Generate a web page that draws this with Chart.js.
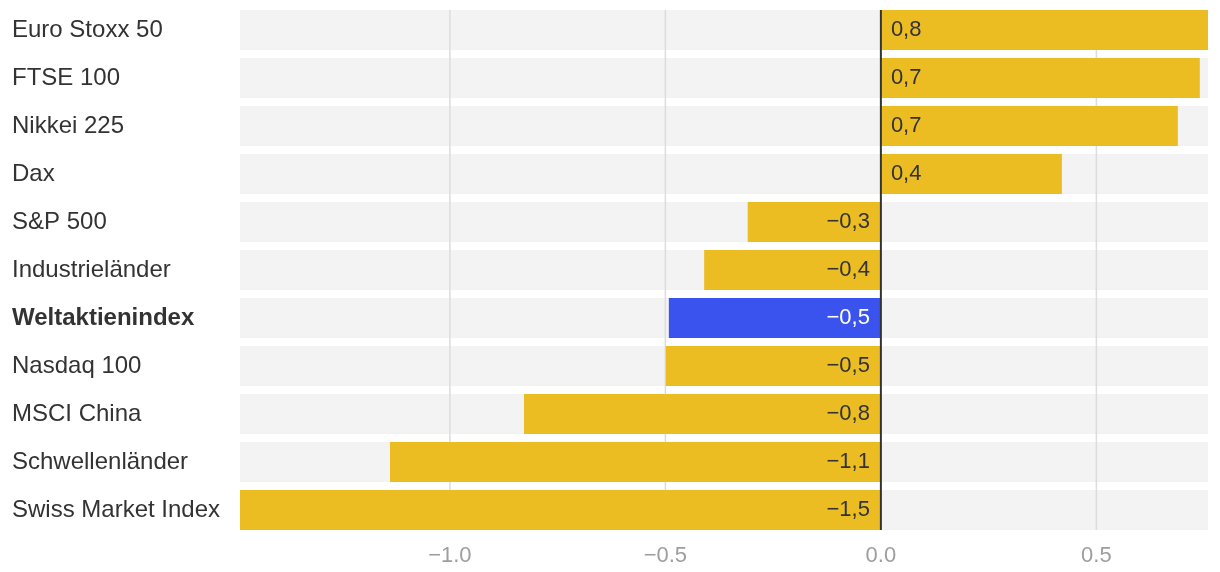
<!DOCTYPE html>
<html>
<head>
  <meta charset="utf-8">
  <script src="https://cdn.jsdelivr.net/npm/chart.js"></script>
  <style>
    html, body { margin: 0; padding: 0; background: #fff; overflow: hidden; }
    #wrap { width: 1220px; height: 562px; position: relative; }
  </style>
</head>
<body>
<div id="wrap"><canvas id="indexChart"></canvas></div>
<script>
const categories = ['Euro Stoxx 50', 'FTSE 100', 'Nikkei 225', 'Dax', 'S&P 500', 'Industrieländer',
  'Weltaktienindex', 'Nasdaq 100', 'MSCI China', 'Schwellenländer', 'Swiss Market Index'];
const values = [0.759, 0.74, 0.689, 0.42, -0.309, -0.41, -0.492, -0.499, -0.828, -1.139, -1.487];
const xTicks = [-1.0, -0.5, 0, 0.5];
const highlight = 'Weltaktienindex';

const FONT = '"Liberation Sans", Arial, Helvetica, sans-serif';
const YELLOW = 'rgb(235,189,34)';
const BLUE = 'rgb(58,83,238)';
const hiIndex = categories.indexOf(highlight);
const xMin = Math.min(...values);
const xMax = Math.max(...values);

const fmt = v => (v < 0 ? '\u2212' : '') + Math.abs(v).toFixed(1).replace('.', ',');

// top/bottom of the bar rows, used for grid and zero line
function rowSpan(chart) {
  const meta = chart.getDatasetMeta(0);
  const first = meta.data[0], last = meta.data[meta.data.length - 1];
  return [first.y - first.height / 2, last.y + last.height / 2];
}

// grid lines go between the grey row backgrounds and the coloured bars
const gridPlugin = {
  id: 'gridBetween',
  afterDatasetDraw(chart, args) {
    if (args.index !== 1) return;
    const c = chart.ctx, x = chart.scales.x;
    const [top, bottom] = rowSpan(chart);
    c.save();
    c.strokeStyle = '#dcdcdc';
    c.lineWidth = 1.5;
    xTicks.forEach(t => {
      if (t === 0) return;
      const px = x.getPixelForValue(t);
      c.beginPath();
      c.moveTo(px, top);
      c.lineTo(px, bottom);
      c.stroke();
    });
    c.restore();
  },
  afterDatasetsDraw(chart) {
    const c = chart.ctx, x = chart.scales.x;
    const meta = chart.getDatasetMeta(0);
    const [top, bottom] = rowSpan(chart);
    const zero = x.getPixelForValue(0);
    c.save();
    // zero line
    c.strokeStyle = '#333';
    c.lineWidth = 2;
    c.beginPath();
    c.moveTo(zero, top);
    c.lineTo(zero, bottom);
    c.stroke();
    // value labels
    c.font = '22px ' + FONT;
    c.textBaseline = 'middle';
    meta.data.forEach((bar, i) => {
      const v = values[i];
      c.fillStyle = i === hiIndex ? '#fff' : '#333';
      if (v >= 0) {
        c.textAlign = 'left';
        c.fillText(fmt(v), bar.base + 10, bar.y);
      } else {
        c.textAlign = 'right';
        c.fillText(fmt(v), bar.base - 11, bar.y);
      }
    });
    c.restore();
  }
};

new Chart(document.getElementById('indexChart'), {
  type: 'bar',
  data: {
    labels: categories,
    datasets: [{
      data: values,
      backgroundColor: categories.map((_, i) => i === hiIndex ? BLUE : YELLOW),
      grouped: false,
      barPercentage: 40 / 48,
      categoryPercentage: 1
    }, {
      data: categories.map(() => [xMin, xMax]),
      backgroundColor: '#f3f3f3',
      grouped: false,
      barPercentage: 40 / 48,
      categoryPercentage: 1
    }]
  },
  plugins: [gridPlugin],
  options: {
    indexAxis: 'y',
    responsive: true,
    maintainAspectRatio: false,
    animation: false,
    events: [],
    layout: { padding: { left: 12, right: 12, top: 6, bottom: 0 } },
    plugins: { legend: { display: false }, tooltip: { enabled: false } },
    scales: {
      x: {
        min: xMin,
        max: xMax,
        afterBuildTicks: s => { s.ticks = xTicks.map(v => ({ value: v })); },
        afterFit: s => { s.height = 28; s.paddingLeft = 0; s.paddingRight = 0; },
        grid: { display: false, drawTicks: false },
        border: { display: false },
        ticks: {
          padding: 9,
          color: '#9e9e9e',
          font: { family: FONT, size: 22 },
          callback: v => fmt(v)
        }
      },
      y: {
        afterFit: s => { s.width = 228; s.paddingTop = 0; s.paddingBottom = 0; },
        grid: { display: false, drawTicks: false },
        border: { display: false },
        ticks: {
          crossAlign: 'far',
          color: '#333',
          font: ctx => ({ family: FONT, size: 24, weight: ctx.index === hiIndex ? 'bold' : 'normal' })
        }
      }
    }
  }
});
</script>
</body>
</html>
